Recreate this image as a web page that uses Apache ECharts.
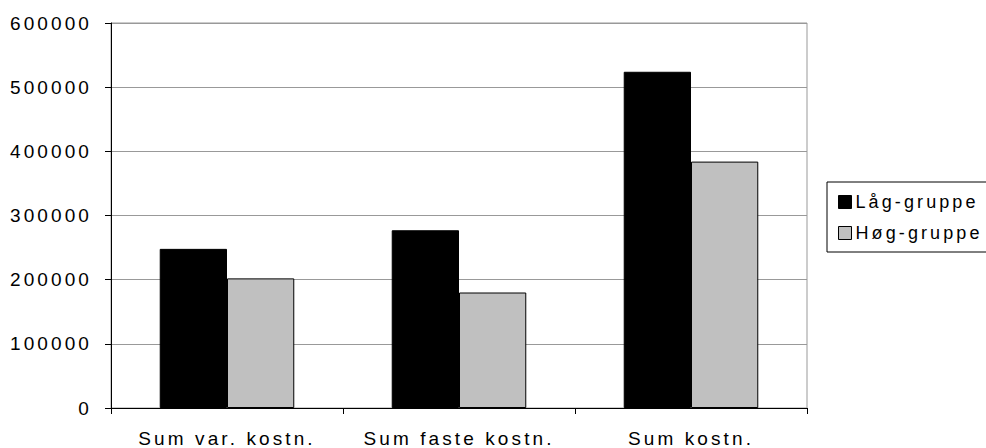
<!DOCTYPE html>
<html>
<head>
<meta charset="utf-8">
<script src="https://cdn.jsdelivr.net/npm/echarts@6/dist/echarts.min.js"></script>
<style>
  html, body { margin: 0; padding: 0; background: #fff; }
  #chart { width: 986px; height: 448px; }
  #chart svg text { letter-spacing: 3.1px; }
</style>
</head>
<body>
<div id="chart"></div>
<script>
const categories = ['Sum var. kostn.', 'Sum faste kostn.', 'Sum kostn.'];
const lagGruppe = [248000, 277000, 524000];
const hogGruppe = [202000, 180000, 384000];
const seriesNames = ['Låg-gruppe', 'Høg-gruppe'];
const yTicks = [0, 100000, 200000, 300000, 400000, 500000, 600000];

const FONT = '"Liberation Sans", Arial, sans-serif';
const chart = echarts.init(document.getElementById('chart'), null, { renderer: 'svg' });
chart.setOption({
  animation: false,
  backgroundColor: '#fff',
  textStyle: { fontFamily: FONT, color: '#000' },
  grid: {
    left: 111, right: 179, top: 23, bottom: 39,
    show: true, borderColor: '#999', borderWidth: 1, backgroundColor: 'transparent'
  },
  legend: {
    orient: 'vertical',
    left: 827, top: 182,
    data: seriesNames,
    borderColor: '#000', borderWidth: 1,
    padding: [11, 200, 10, 11],
    itemWidth: 13, itemHeight: 13, itemGap: 13,
    icon: 'rect',
    itemStyle: { borderColor: '#000', borderWidth: 1 },
    textStyle: { fontFamily: FONT, fontSize: 18, color: '#000', padding: [0, 0, 0, -1] }
  },
  xAxis: {
    type: 'category',
    data: categories,
    axisLine: { lineStyle: { color: '#000', width: 1 } },
    axisTick: { show: true, length: 6, alignWithLabel: false, lineStyle: { color: '#000' } },
    axisLabel: { fontFamily: FONT, fontSize: 19, color: '#000', margin: 21 },
    splitLine: { show: false }
  },
  yAxis: {
    type: 'value',
    min: yTicks[0], max: yTicks[yTicks.length - 1], interval: yTicks[1] - yTicks[0],
    axisLine: { show: true, lineStyle: { color: '#000', width: 1 } },
    axisTick: { show: true, length: 6, lineStyle: { color: '#000' } },
    axisLabel: {
      fontFamily: FONT, fontSize: 19, color: '#000', margin: 19,
      formatter: function (v) { return String(v); }
    },
    splitLine: { show: true, lineStyle: { color: '#999', width: 1 } }
  },
  series: [
    {
      name: seriesNames[0], type: 'bar', data: lagGruppe,
      barGap: '0%', barCategoryGap: '42%',
      itemStyle: { color: '#000', borderColor: '#000', borderWidth: 1 }
    },
    {
      name: seriesNames[1], type: 'bar', data: hogGruppe,
      barGap: '0%', barCategoryGap: '42%',
      itemStyle: { color: '#c0c0c0', borderColor: '#000', borderWidth: 1 }
    }
  ]
});
</script>
</body>
</html>
